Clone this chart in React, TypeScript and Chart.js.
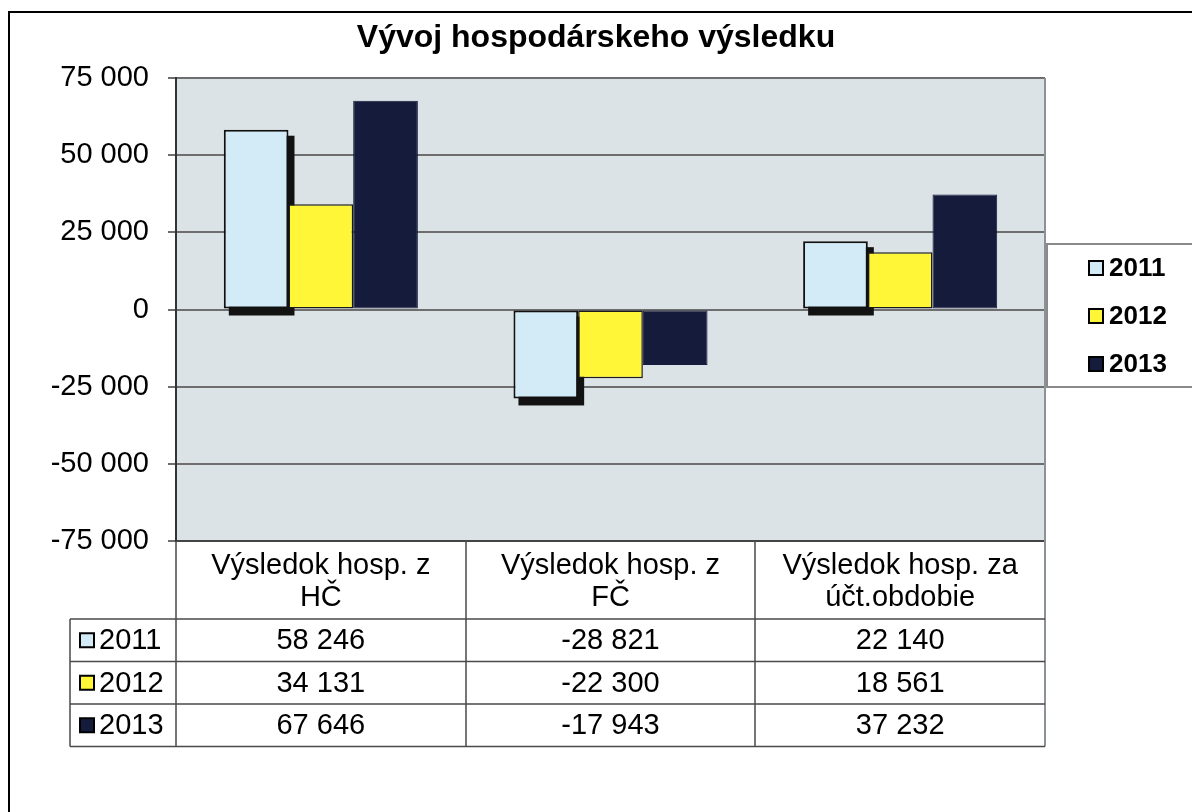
import React, { useEffect, useRef } from "react";
import { Chart, registerables } from "chart.js";

Chart.register(...registerables);

// ---- data ----
const chartTitle = "Vývoj hospodárskeho výsledku";
const categories: string[][] = [
  ["Výsledok hosp. z", "HČ"],
  ["Výsledok hosp. z", "FČ"],
  ["Výsledok hosp. za", "účt.obdobie"],
];
const seriesNames = ["2011", "2012", "2013"];
const values2011 = [58246, -28821, 22140];
const values2012 = [34131, -22300, 18561];
const values2013 = [67646, -17943, 37232];
const yMin = -75000;
const yMax = 75000;
const yStep = 25000;

// ---- styles ----
const seriesColors = ["#d2ebf7", "#fef636", "#151c3b"];
const seriesBorders = ["#111111", "#1a1a1a", "#151c3b"];
const seriesBorderWidths = [2, 1.5, 1];
const plotBg = "#dce3e6";
const FONT = '"Liberation Sans", Arial, Helvetica, sans-serif';

const fmt = (v: number): string => {
  const s = Math.abs(Math.round(v))
    .toString()
    .replace(/\B(?=(\d{3})+(?!\d))/g, " ");
  return (v < 0 ? "-" : "") + s;
};

const allSeries = [values2011, values2012, values2013];

const decorPlugin = {
  id: "decor",
  beforeDraw(chart: any) {
    const { ctx, chartArea: a } = chart;
    ctx.save();
    ctx.fillStyle = "#ffffff";
    ctx.fillRect(0, 0, chart.width, chart.height);
    ctx.fillStyle = plotBg;
    ctx.fillRect(a.left, a.top, a.right - a.left, a.bottom - a.top);
    ctx.restore();
  },
  beforeDatasetsDraw(chart: any) {
    // 3D-like drop shadow behind the 2011 bars
    const { ctx } = chart;
    const meta = chart.getDatasetMeta(0);
    ctx.save();
    ctx.fillStyle = "#121212";
    meta.data.forEach((el: any) => {
      const { x, y, base, width } = el.getProps(["x", "y", "base", "width"], true);
      const left = x - width / 2;
      const top = Math.min(y, base);
      const h = Math.abs(base - y);
      ctx.fillRect(left + 5, top + 6, width + 1, h + 1);
    });
    ctx.restore();
  },
  afterDraw(chart: any) {
    const { ctx, chartArea: a } = chart;
    const xs = chart.scales.x;
    const n = categories.length;
    const catW = (a.right - a.left) / n;
    const rowTop = xs.bottom;
    const rowH = 42.5;
    const tableBottom = rowTop + seriesNames.length * rowH;
    const tableLeft = 70;

    ctx.save();

    // title
    ctx.fillStyle = "#000";
    ctx.font = `bold 32px ${FONT}`;
    ctx.textAlign = "center";
    ctx.textBaseline = "alphabetic";
    ctx.fillText(chartTitle, 596, 47);

    // outer frame
    ctx.strokeStyle = "#000";
    ctx.lineWidth = 2;
    ctx.beginPath();
    ctx.moveTo(9, chart.height);
    ctx.lineTo(9, 12);
    ctx.lineTo(chart.width, 12);
    ctx.stroke();

    // plot right border
    ctx.strokeStyle = "#8b9196";
    ctx.lineWidth = 2;
    ctx.beginPath();
    ctx.moveTo(a.right, a.top);
    ctx.lineTo(a.right, tableBottom);
    ctx.stroke();

    // data table lines
    ctx.strokeStyle = "#4a4a4a";
    ctx.lineWidth = 1.5;
    ctx.beginPath();
    ctx.moveTo(a.left, a.bottom);
    ctx.lineTo(a.left, tableBottom);
    for (let i = 0; i < n - 1; i++) {
      const bx = Math.round(xs.getPixelForValue(i) + catW / 2);
      ctx.moveTo(bx, a.bottom);
      ctx.lineTo(bx, tableBottom);
    }
    ctx.moveTo(tableLeft, rowTop);
    ctx.lineTo(tableLeft, tableBottom);
    for (let r = 0; r <= seriesNames.length; r++) {
      const yy = rowTop + r * rowH;
      ctx.moveTo(tableLeft, yy);
      ctx.lineTo(a.right, yy);
    }
    ctx.stroke();

    // table contents
    ctx.font = `29px ${FONT}`;
    ctx.textBaseline = "middle";
    seriesNames.forEach((name, s) => {
      const cy = rowTop + (s + 0.5) * rowH;
      // key
      ctx.fillStyle = seriesColors[s];
      ctx.fillRect(tableLeft + 10, cy - 7, 14, 14);
      ctx.strokeStyle = "#000";
      ctx.lineWidth = 2;
      ctx.strokeRect(tableLeft + 10, cy - 7, 14, 14);
      ctx.fillStyle = "#000";
      ctx.textAlign = "left";
      ctx.fillText(name, tableLeft + 29, cy + 1);
      ctx.textAlign = "center";
      allSeries[s].forEach((v, i) => {
        ctx.fillText(fmt(v), xs.getPixelForValue(i), cy + 1);
      });
    });

    // legend
    const lx = 1047;
    const ly = 244;
    ctx.fillStyle = "#fff";
    ctx.fillRect(lx, ly, 200, 143);
    ctx.strokeStyle = "#8a8a8a";
    ctx.lineWidth = 2;
    ctx.strokeRect(lx, ly, 200, 143);
    ctx.font = `bold 26px ${FONT}`;
    ctx.textAlign = "left";
    ctx.textBaseline = "middle";
    seriesNames.forEach((name, s) => {
      const cy = ly + 24 + s * 48;
      ctx.fillStyle = seriesColors[s];
      ctx.fillRect(1089, cy - 7, 14, 14);
      ctx.strokeStyle = "#000";
      ctx.lineWidth = 2;
      ctx.strokeRect(1089, cy - 7, 14, 14);
      ctx.fillStyle = "#000";
      ctx.fillText(name, 1109, cy + 1);
    });

    ctx.restore();
  },
};

export default function App() {
  const canvasRef = useRef<HTMLCanvasElement | null>(null);

  useEffect(() => {
    const canvas = canvasRef.current;
    if (!canvas) return;
    const chart = new Chart(canvas, {
      type: "bar",
      data: {
        labels: categories,
        datasets: seriesNames.map((name, s) => ({
          label: name,
          data: allSeries[s],
          backgroundColor: seriesColors[s],
          borderColor: seriesBorders[s],
          borderWidth: seriesBorderWidths[s],
          borderSkipped: false,
          barPercentage: 1,
          categoryPercentage: 0.67,
        })),
      },
      options: {
        responsive: false,
        animation: false,
        events: [],
        layout: { padding: { top: 78, left: 0, right: 147, bottom: 193 } },
        plugins: {
          legend: { display: false },
          title: { display: false },
          tooltip: { enabled: false },
        },
        scales: {
          x: {
            type: "category",
            grid: { display: false, drawTicks: false },
            border: { display: true, color: "#444", width: 2 },
            ticks: {
              color: "#000",
              padding: 9,
              maxRotation: 0,
              autoSkip: false,
              font: { family: FONT, size: 29, lineHeight: 1.1 },
            },
            afterFit: (scale: any) => {
              scale.height = 78;
            },
          },
          y: {
            min: yMin,
            max: yMax,
            grid: { color: "#6e6e6e", lineWidth: 2, tickLength: 8, drawTicks: true },
            border: { display: true, color: "#333", width: 2 },
            ticks: {
              stepSize: yStep,
              color: "#000",
              padding: 19,
              font: { family: FONT, size: 29 },
              callback: (v: any) => fmt(Number(v)),
            },
            afterFit: (scale: any) => {
              scale.width = 176;
            },
          },
        },
      },
      plugins: [decorPlugin],
    });
    return () => chart.destroy();
  }, []);

  return (
    <div style={{ position: "absolute", left: 0, top: 0, width: 1192, height: 812, background: "#fff" }}>
      <canvas ref={canvasRef} width={1192} height={812} style={{ display: "block" }} />
    </div>
  );
}
